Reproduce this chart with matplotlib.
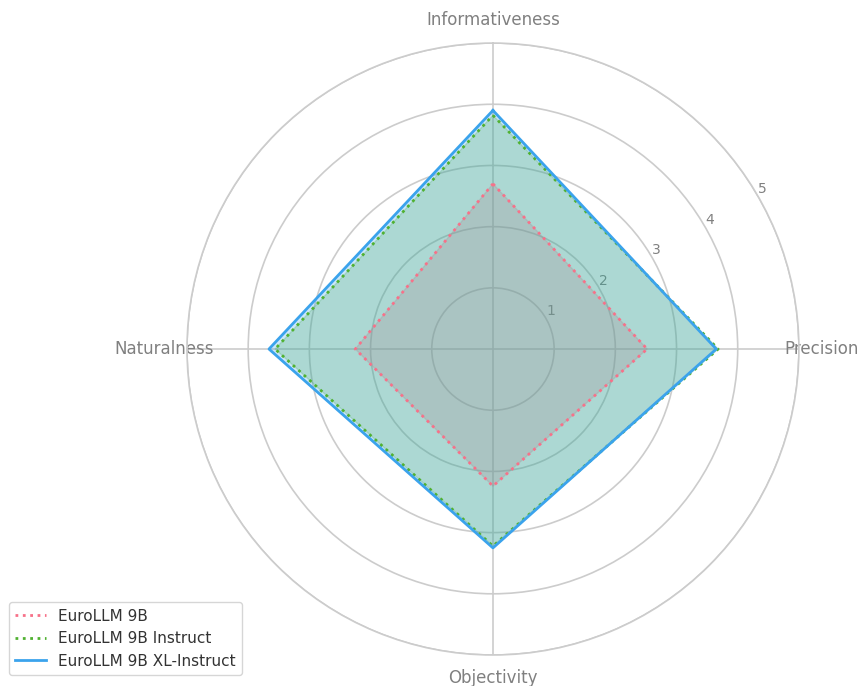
import numpy as np
import matplotlib.pyplot as plt

categories = ["Informativeness", "Precision", "Objectivity", "Naturalness"]
euro_9b = [2.70, 2.52, 2.24, 2.25]
euro_9b_instruct = [3.82, 3.68, 3.22, 3.56]
euro_9b_xl = [3.90, 3.65, 3.25, 3.66]

series = [
    ("EuroLLM 9B", euro_9b, "#f77189", ":"),
    ("EuroLLM 9B Instruct", euro_9b_instruct, "#50b131", ":"),
    ("EuroLLM 9B XL-Instruct", euro_9b_xl, "#3ba3ec", "-"),
]

angles = np.linspace(0, 2 * np.pi, len(categories), endpoint=False).tolist()
angles += angles[:1]

fig = plt.figure(figsize=(8.6, 6.86), dpi=100)
ax = fig.add_axes([0.2174, 0.0452, 0.7116, 0.892], polar=True)
ax.set_theta_offset(np.pi / 2)
ax.set_theta_direction(-1)
ax.set_axisbelow(True)

for name, vals, col, ls in series:
    v = vals + vals[:1]
    ax.plot(angles, v, color=col, linestyle=ls, linewidth=2, label=name)
    ax.fill(angles, v, color=col, alpha=0.25)

ax.set_ylim(0, 5)
ax.set_yticks([1, 2, 3, 4, 5])
ax.set_yticklabels(["1", "2", "3", "4", "5"], color="#808080", fontsize=10)
ax.set_rlabel_position(60)
ax.set_xticks(angles[:-1])
ax.set_xticklabels(categories, color="#808080", fontsize=12)
ax.tick_params(axis="x", pad=6)
ax.grid(color="#cccccc", linewidth=1.2)
ax.spines["polar"].set_color("#cccccc")
ax.spines["polar"].set_linewidth(1.2)

leg = fig.legend(loc="lower left", bbox_to_anchor=(0.002, 0.005), fontsize=11)
for t in leg.get_texts():
    t.set_color("#333333")

fig.savefig("out.png", dpi=100)
